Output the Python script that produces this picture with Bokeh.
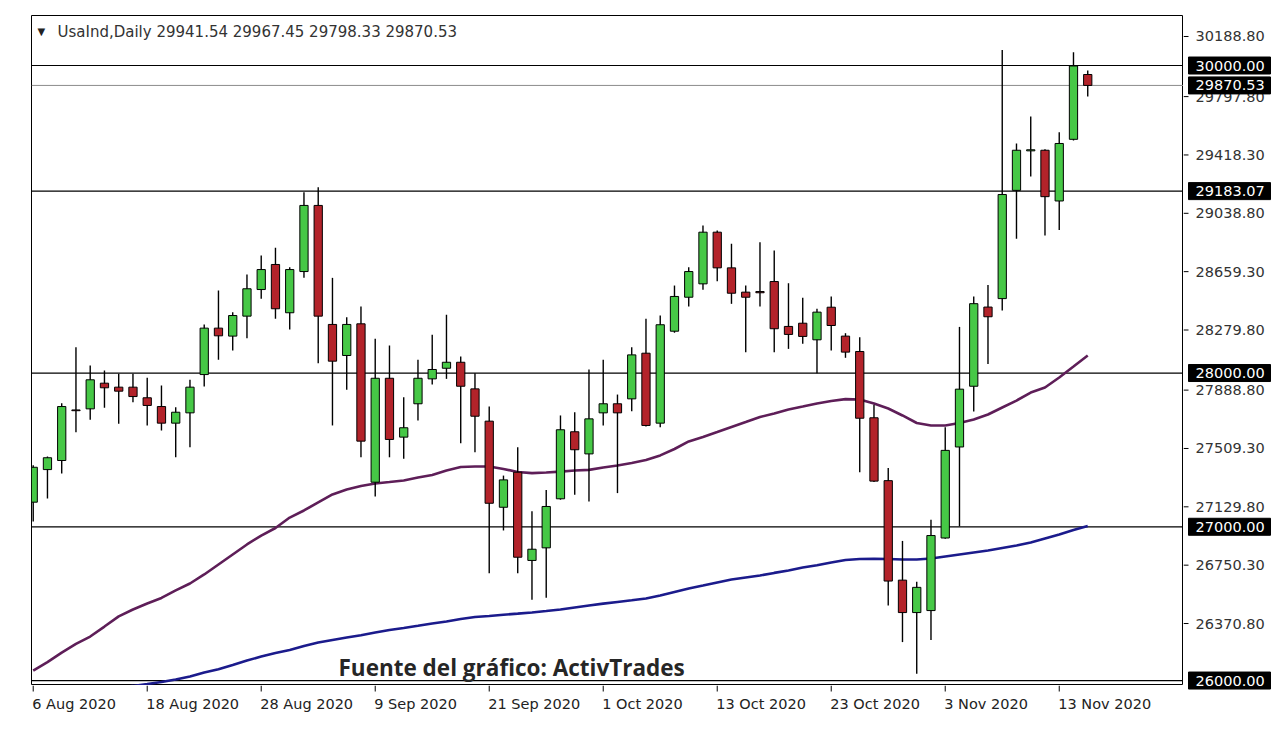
from bokeh.plotting import figure
from bokeh.layouts import row, column
from bokeh.models import Range1d, Span, Label, ColumnDataSource
from bokeh.core.properties import value
from bokeh.embed import file_html
from bokeh.resources import INLINE

nan = float("nan")

# ---------------- data ----------------
opens = [27160, 27372, 27431, 27760, 27767, 27934, 27908, 27908, 27839, 27782,
         27674, 27741, 27990, 28292, 28240, 28370, 28543, 28706, 28392, 28660,
         29090, 28316, 28114, 28320, 27290, 27966, 27583, 27800, 27962, 28031,
         28070, 27897, 27687, 27127, 27355, 26781, 26863, 27182, 27618, 27474,
         27741, 27800, 27832, 28129, 27674, 28272, 28493, 28580, 28916, 28684,
         28526, 28530, 28595, 28303, 28324, 28216, 28428, 28240, 28140, 27709,
         27300, 26653, 26442, 26455, 26927, 27519, 27914, 28429, 28484, 29188,
         29445, 29449, 29119, 29520, 29941.54]
highs = [27400, 27457, 27804, 28168, 28049, 28016, 27995, 27995, 27969, 27919,
         27778, 27956, 28316, 28537, 28396, 28641, 28764, 28815, 28688, 29176,
         29209, 28619, 28363, 28433, 28223, 28179, 27843, 28086, 28249, 28379,
         28107, 27999, 27782, 27333, 27517, 27101, 27240, 27724, 27745, 28023,
         28086, 27860, 28168, 28353, 28374, 28569, 28688, 28960, 28927, 28840,
         28569, 28851, 28797, 28584, 28489, 28418, 28498, 28259, 28233, 27793,
         27382, 26908, 26642, 27045, 27648, 28300, 28498, 28572, 30101, 29493,
         29668, 29455, 29566, 30087, 29967.45]
lows = [27034, 27184, 27346, 27615, 27696, 27774, 27670, 27810, 27659, 27626,
        27452, 27517, 27912, 28086, 28146, 28226, 28483, 28353, 28283, 28619,
        28064, 27659, 27891, 27452, 27197, 27452, 27442, 27691, 27925, 27962,
        27543, 27485, 26698, 26976, 26698, 26525, 26538, 27176, 27208, 27164,
        27659, 27219, 27751, 27652, 27648, 28262, 28433, 28541, 28597, 28450,
        28135, 28433, 28135, 28157, 28190, 27999, 28146, 28099, 27355, 27292,
        26488, 26250, 26044, 26263, 26922, 27003, 27750, 28059, 28407, 28873,
        29278, 28895, 28931, 29512, 29798.33]
closes = [27387, 27449, 27782, 27755, 27956, 27904, 27882, 27847, 27789, 27674,
          27745, 27908, 28292, 28242, 28374, 28548, 28673, 28418, 28673, 29090,
          28370, 28077, 28316, 27557, 27966, 27568, 27644, 27966, 28023, 28070,
          27914, 27719, 27153, 27305, 26802, 26854, 27132, 27631, 27501, 27702,
          27800, 27741, 28118, 27659, 28314, 28498, 28660, 28916, 28684, 28519,
          28493, 28522, 28288, 28251, 28238, 28396, 28309, 28136, 27706, 27297,
          26647, 26442, 26606, 26943, 27497, 27895, 28451, 28366, 29161, 29449,
          29452, 29147, 29493, 29997, 29870.53]

ma_purple = [26065, 26120, 26182, 26238, 26286, 26351, 26417, 26462, 26501, 26537,
             26586, 26631, 26690, 26755, 26820, 26885, 26943, 26992, 27060, 27106,
             27158, 27210, 27243, 27265, 27282, 27291, 27301, 27320, 27337, 27366,
             27389, 27392, 27392, 27376, 27356, 27349, 27353, 27359, 27366, 27370,
             27386, 27398, 27415, 27434, 27464, 27506, 27555, 27584, 27616, 27649,
             27681, 27714, 27737, 27763, 27782, 27802, 27818, 27830, 27828, 27802,
             27769, 27724, 27675, 27659, 27659, 27675, 27698, 27730, 27776, 27821,
             27873, 27906, 27971, 28042, 28114]
ma_navy = [nan, nan, nan, nan, nan, nan, 25955, 25965, 25977, 25991,
           26007, 26026, 26052, 26074, 26101, 26130, 26156, 26179, 26199, 26225,
           26247, 26264, 26280, 26295, 26312, 26329, 26342, 26356, 26371, 26384,
           26400, 26413, 26420, 26428, 26435, 26443, 26452, 26462, 26475, 26488,
           26500, 26511, 26522, 26534, 26553, 26576, 26599, 26618, 26638, 26657,
           26670, 26683, 26700, 26716, 26735, 26750, 26768, 26784, 26790, 26792,
           26790, 26787, 26787, 26794, 26807, 26820, 26833, 26846, 26862, 26878,
           26898, 26924, 26950, 26979, 27005]

tick_index = [0, 8, 16, 24, 32, 40, 48, 56, 64, 72]
tick_labels = ["6 Aug 2020", "18 Aug 2020", "28 Aug 2020", "9 Sep 2020", "21 Sep 2020",
               "1 Oct 2020", "13 Oct 2020", "23 Oct 2020", "3 Nov 2020", "13 Nov 2020"]
price_ticks = [30188.80, 29797.80, 29418.30, 29038.80, 28659.30, 28279.80,
               27888.80, 27509.30, 27129.80, 26750.30, 26370.80]
level_lines = [30000.00, 29183.07, 28000.00, 27000.00, 26000.00]
last_price = 29870.53
title_text = "UsaInd,Daily  29941.54 29967.45 29798.33 29870.53"
source_text = "Fuente del gráfico: ActivTrades"

# ---------------- styles / layout ----------------
GREEN = "#46c846"
RED = "#b3232a"
PURPLE = "#5e1e58"
NAVY = "#1b1b8c"
FONT = "DejaVu Sans"
FW, FH = 1152, 670          # chart frame
RW = 100                    # right price-scale strip
BH = 36                     # bottom time-scale strip
Y0, Y1 = 25967.7, 30325.3   # visible price window

idx = list(range(len(opens)))
src = ColumnDataSource(dict(
    x=idx, open=opens, high=highs, low=lows, close=closes,
    top=[max(o, c) for o, c in zip(opens, closes)],
    bottom=[min(o, c) for o, c in zip(opens, closes)],
    color=[GREEN if c >= o else RED for o, c in zip(opens, closes)],
))

def bare(**kw):
    f = figure(output_backend="svg", toolbar_location=None,
               x_axis_location=None, y_axis_location=None,
               background_fill_color="white", border_fill_color="white",
               min_border=0, **kw)
    f.grid.visible = False
    return f

# ---------------- main chart ----------------
p = bare(frame_width=FW, frame_height=FH,
         x_range=Range1d(-0.12, 80.72), y_range=Range1d(Y0, Y1),
         min_border_left=31, min_border_top=15)
p.outline_line_color = "black"
p.outline_line_width = 1

for lv in level_lines:
    p.add_layout(Span(location=lv, dimension="width", line_color="black",
                      line_width=1.2, level="underlay"))
p.add_layout(Span(location=last_price, dimension="width", line_color="#8c8c8c",
                  line_width=1, level="underlay"))

p.line(idx, ma_navy, line_color=NAVY, line_width=2.6)
p.line(idx, ma_purple, line_color=PURPLE, line_width=2.6)

p.segment(x0="x", y0="low", x1="x", y1="high", source=src, line_color="black", line_width=1.4)
p.vbar(x="x", width=0.58, top="top", bottom="bottom", source=src,
       fill_color="color", line_color="black", line_width=1)

p.add_layout(Label(x=6, y=FH - 16, x_units="screen", y_units="screen", text="▼",
                   text_font=FONT, text_font_size="10px", text_color="#222222",
                   text_baseline="middle"))
p.add_layout(Label(x=26, y=FH - 16, x_units="screen", y_units="screen", text=title_text,
                   text_font=FONT, text_font_size="15px", text_color="#333333",
                   text_baseline="middle"))
p.add_layout(Label(x=307, y=18, x_units="screen", y_units="screen", text=source_text,
                   text_font="Open Sans", text_font_style="bold", text_font_size="22.5px",
                   text_color="#262626", text_baseline="middle"))

# ---------------- bottom time scale ----------------
b = bare(frame_width=FW, frame_height=BH, x_range=p.x_range, y_range=Range1d(BH, 0),
         min_border_left=31)
b.outline_line_color = None
b.segment(x0=tick_index, y0=0, x1=tick_index, y1=6, line_color="black", line_width=1)
b.text(x=tick_index, y=18, text=tick_labels, x_offset=-1,
       text_font=value(FONT), text_font_size="14.5px", text_color="#222222",
       text_baseline="middle", text_align="left")

# ---------------- right price scale (same scale, reaches down past the chart) ----------------
r_start = Y0 - BH * (Y1 - Y0) / FH
r = bare(frame_width=RW, frame_height=FH + BH, x_range=Range1d(0, RW),
         y_range=Range1d(r_start, Y1), min_border_top=15)
r.outline_line_color = None
r.segment(x0=0, y0=price_ticks, x1=5, y1=price_ticks, line_color="black", line_width=1)
r.text(x=12, y=price_ticks, text=[f"{v:.2f}" for v in price_ticks],
       text_font=value(FONT), text_font_size="14.5px", text_color="#333333",
       text_baseline="middle", text_align="left")
boxes = level_lines + [last_price]
r.rect(x=46, y=boxes, width=82, height=17, height_units="screen",
       fill_color="black", line_color="black")
r.text(x=12, y=boxes, text=[f"{v:.2f}" for v in boxes],
       text_font=value(FONT), text_font_size="14.5px", text_color="white",
       text_baseline="middle", text_align="left")

layout = row(column(p, b), r)
open("out.html", "w").write(file_html(layout, INLINE))
